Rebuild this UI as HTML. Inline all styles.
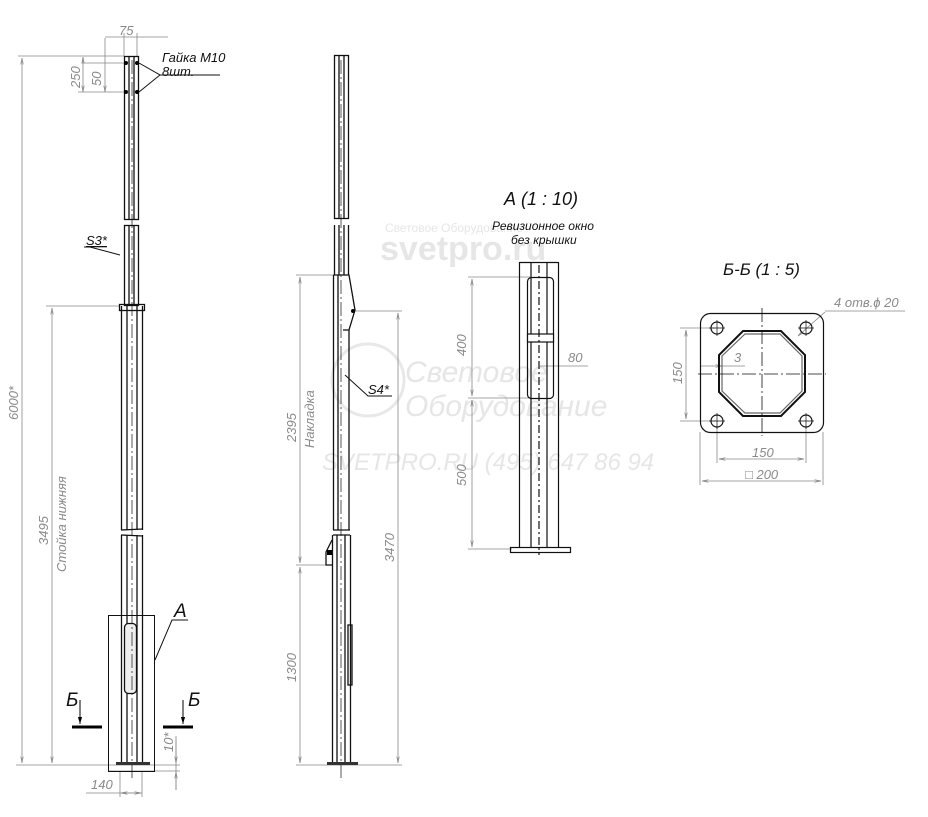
<!DOCTYPE html>
<html><head><meta charset="utf-8"><style>
html,body{margin:0;padding:0;background:#fff;}
svg{display:block;}
.t{font-family:"Liberation Sans",sans-serif;font-style:italic;}
.d{fill:#8a8a8a;font-size:13px;}
.k{fill:#111;}
.w{font-family:"Liberation Sans",sans-serif;fill:#e6e6e6;}
</style></head><body>
<svg width="928" height="817" viewBox="0 0 928 817" xmlns="http://www.w3.org/2000/svg">
<defs>
<marker id="a" viewBox="0 0 10 10" refX="10" refY="5" markerWidth="8" markerHeight="8" orient="auto-start-reverse"><path d="M0,3 L10,5 L0,7" fill="none" stroke="#888" stroke-width="1"/></marker>
<marker id="b" viewBox="0 0 10 10" refX="10" refY="5" markerWidth="7" markerHeight="7" orient="auto"><path d="M0,2 L10,5 L0,8 z" fill="#000"/></marker>
</defs>
<!-- watermark -->
<text class="w" x="385" y="232" font-size="12">Световое Оборудование</text>
<text class="w" x="380" y="260" font-size="34" font-weight="bold">svetpro.ru</text>
<circle cx="368" cy="380" r="36" fill="none" stroke="#e8e8e8" stroke-width="3"/>
<text class="w" x="405" y="382" font-size="30" font-style="italic">Световое</text>
<text class="w" x="405" y="416" font-size="30" font-style="italic">Оборудование</text>
<text class="w" x="322" y="470" font-size="24" font-style="italic">SVETPRO.RU   (495) 647 86 94</text>
<g stroke="#888" stroke-width="0.8" fill="none">
<line x1="18" y1="56" x2="124" y2="56"/>
<line x1="22" y1="58" x2="22" y2="763" marker-start="url(#a)" marker-end="url(#a)"/>
<line x1="16" y1="765" x2="180" y2="765"/>
<line x1="82" y1="63" x2="126" y2="63"/>
<line x1="78" y1="92" x2="126" y2="92"/>
<line x1="83" y1="57" x2="83" y2="92" marker-start="url(#a)" marker-end="url(#a)"/>
<line x1="105" y1="63" x2="105" y2="92" marker-end="url(#a)"/>
<line x1="105" y1="38" x2="105" y2="63"/>
<line x1="124" y1="33" x2="124" y2="56"/><line x1="137" y1="33" x2="137" y2="56"/>
<line x1="105" y1="37" x2="168" y2="37"/>
<line x1="46" y1="306" x2="120" y2="306"/>
<line x1="52" y1="308" x2="52" y2="763" marker-start="url(#a)" marker-end="url(#a)"/>
<line x1="176" y1="736" x2="176" y2="790"/>
<line x1="176" y1="740" x2="176" y2="763" marker-end="url(#a)"/>
<line x1="176" y1="790" x2="176" y2="772" marker-end="url(#a)"/>
<line x1="108" y1="771" x2="180" y2="771"/>
<line x1="120" y1="772" x2="120" y2="797"/><line x1="142" y1="772" x2="142" y2="797"/>
<line x1="86" y1="793" x2="142" y2="793"/>
<line x1="121" y1="793" x2="141" y2="793" marker-start="url(#a)" marker-end="url(#a)"/>
<line x1="296" y1="275" x2="336" y2="275"/>
<line x1="300" y1="277" x2="300" y2="563" marker-start="url(#a)" marker-end="url(#a)"/>
<line x1="296" y1="565" x2="330" y2="565"/>
<line x1="300" y1="567" x2="300" y2="763" marker-start="url(#a)" marker-end="url(#a)"/>
<line x1="296" y1="765" x2="402" y2="765"/>
<line x1="354" y1="311" x2="402" y2="311"/>
<line x1="398" y1="313" x2="398" y2="763" marker-start="url(#a)" marker-end="url(#a)"/>
<line x1="468" y1="277" x2="530" y2="277"/>
<line x1="468" y1="398" x2="530" y2="398"/>
<line x1="472" y1="279" x2="472" y2="396" marker-start="url(#a)" marker-end="url(#a)"/>
<line x1="472" y1="400" x2="472" y2="547" marker-start="url(#a)" marker-end="url(#a)"/>
<line x1="468" y1="549" x2="512" y2="549"/>
<line x1="540" y1="366" x2="588" y2="366"/>
<line x1="680" y1="328" x2="716" y2="328"/><line x1="680" y1="421" x2="716" y2="421"/>
<line x1="686" y1="330" x2="686" y2="419" marker-start="url(#a)" marker-end="url(#a)"/>
<line x1="717" y1="425" x2="717" y2="463"/><line x1="806" y1="425" x2="806" y2="463"/>
<line x1="719" y1="459" x2="804" y2="459" marker-start="url(#a)" marker-end="url(#a)"/>
<line x1="700" y1="432" x2="700" y2="485"/><line x1="823" y1="432" x2="823" y2="485"/>
<line x1="702" y1="481" x2="821" y2="481" marker-start="url(#a)" marker-end="url(#a)"/>
<line x1="700" y1="366" x2="722" y2="366" marker-end="url(#a)"/>
<line x1="722" y1="366" x2="745" y2="366"/>
<line x1="798" y1="336" x2="825" y2="312" marker-start="url(#a)"/>
<line x1="825" y1="311" x2="905" y2="311"/>
</g>
<!-- Pole 1 -->
<g stroke="#111" stroke-width="1.3" fill="none">
<rect x="124.5" y="56.5" width="14" height="163"/>
<line x1="129" y1="57" x2="129" y2="220"/><line x1="134" y1="57" x2="134" y2="220"/>
<rect x="124.5" y="225.5" width="14" height="80"/>
<line x1="129" y1="226" x2="129" y2="306"/><line x1="134" y1="226" x2="134" y2="306"/>
<path d="M121.5,306 L121.5,530 M142.5,306 L142.5,530 M121.5,535 L121.5,765 M142.5,535 L142.5,765"/>
<line x1="127" y1="306" x2="127" y2="530"/><line x1="137" y1="306" x2="137" y2="530"/>
<line x1="127" y1="535" x2="127" y2="765"/><line x1="137" y1="535" x2="137" y2="765"/>
<line x1="121" y1="530" x2="143" y2="529"/><line x1="121" y1="535" x2="143" y2="536"/>
<rect x="119.5" y="304.5" width="25" height="6"/>
<rect x="108.5" y="615.5" width="46" height="156" stroke-width="1"/>
<rect x="124.5" y="623.5" width="12" height="70" rx="4" fill="#eee"/>
<line x1="132" y1="60" x2="132" y2="780" stroke-dasharray="14,3,2,3" stroke-width="0.7"/>
<path d="M139,63 L160,75 L139,92 M160,75 L220,75" stroke-width="1"/>
<path d="M120,255 L90,247 L84,247" stroke-width="1"/>
<path d="M155,660 L172,620 L188,620" stroke-width="1"/>
</g>
<rect x="116" y="762" width="34" height="3" fill="#333"/>
<g fill="#000"><circle cx="126" cy="63" r="2"/><circle cx="137" cy="63" r="2"/><circle cx="126" cy="92" r="2"/><circle cx="137" cy="92" r="2"/></g>
<g stroke="#000" stroke-width="3"><line x1="72" y1="727" x2="102" y2="727"/><line x1="163" y1="727" x2="193" y2="727"/></g>
<g stroke="#000" stroke-width="1"><line x1="80" y1="700" x2="80" y2="724" marker-end="url(#b)"/><line x1="183" y1="700" x2="183" y2="724" marker-end="url(#b)"/></g>
<!-- Pole 2 -->
<g stroke="#111" stroke-width="1.3" fill="none">
<rect x="334.5" y="55.5" width="14" height="163"/>
<line x1="339" y1="56" x2="339" y2="219"/><line x1="344" y1="56" x2="344" y2="219"/>
<path d="M334.5,225 L334.5,275 M348.5,225 L348.5,275"/>
<line x1="339" y1="225" x2="339" y2="275"/><line x1="344" y1="225" x2="344" y2="275"/>
<path d="M333.5,275 L349,275 L355,310 L349,330 L349,530 M333.5,275 L333.5,530 M338,275 L338,530 M343,330 L349,330"/>
<line x1="333" y1="530" x2="350" y2="530"/>
<path d="M332.5,535 L332.5,765 M350.5,535 L350.5,765 M337,535 L337,765 M345,535 L345,765 M333,535 L350,535"/>
<path d="M332,540 L326,552 L326,565 L332,565"/>
<rect x="348" y="625" width="4" height="60"/>
<line x1="341" y1="60" x2="341" y2="780" stroke-dasharray="14,3,2,3" stroke-width="0.7"/>
<path d="M345,375 L368,396 L392,396" stroke-width="1"/>
</g>
<rect x="327" y="762" width="31" height="3" fill="#333"/>
<circle cx="353" cy="311" r="2" fill="#000"/><rect x="327" y="550" width="5" height="5" fill="#000"/>
<!-- Detail A -->
<g stroke="#111" stroke-width="1.2" fill="none">
<path d="M519.5,262.5 L558.5,262.5 M519.5,262 L519.5,548 M558.5,262 L558.5,548"/>
<line x1="531" y1="262" x2="531" y2="548"/><line x1="547" y1="262" x2="547" y2="548"/>
<rect x="527.5" y="277.5" width="26" height="121" rx="4"/>
<rect x="527.5" y="334" width="26" height="8" fill="#fff"/>
<rect x="510.5" y="547.5" width="60" height="5"/>
<line x1="539" y1="265" x2="539" y2="555" stroke-dasharray="8,3,2,3" stroke-width="1.2"/>
</g>
<!-- Б-Б -->
<g stroke="#111" stroke-width="1.2" fill="none">
<rect x="700.5" y="313.5" width="123" height="119" rx="10"/>
<path d="M743,331 L781,331 L805,355 L805,392 L781,416 L743,416 L719,392 L719,355 Z" stroke-width="2"/>
<path d="M745,334 L780,334 L802,356 L802,391 L780,413 L745,413 L722,391 L722,356 Z" stroke="#666"/>
<circle cx="717" cy="328" r="6"/><circle cx="806" cy="328" r="6"/><circle cx="717" cy="421" r="6"/><circle cx="806" cy="421" r="6"/>
<path d="M709,328h16M717,320v16M798,328h16M806,320v16M709,421h16M717,413v16M798,421h16M806,413v16" stroke-width="0.7"/>
<line x1="698" y1="374" x2="826" y2="374" stroke-dasharray="14,3,2,3" stroke-width="0.8"/>
<line x1="762" y1="308" x2="762" y2="436" stroke-dasharray="14,3,2,3" stroke-width="0.8"/>
</g>
<text class="t d" x="119" y="35">75</text>
<text class="t k" x="162" y="62" font-size="13">Гайка М10</text>
<text class="t k" x="162" y="76" font-size="13">8шт.</text>
<text class="t d" transform="translate(80,88) rotate(-90)">250</text>
<text class="t d" transform="translate(101,86) rotate(-90)">50</text>
<text class="t d" transform="translate(18,420) rotate(-90)">6000*</text>
<text class="t d" transform="translate(48,545) rotate(-90)">3495</text>
<text class="t d" transform="translate(66,572) rotate(-90)">Стойка нижняя</text>
<text class="t k" x="86" y="245" font-size="13" text-decoration="underline">S3*</text>
<text class="t k" x="174" y="617" font-size="19">А</text>
<text class="t k" x="66" y="706" font-size="19">Б</text>
<text class="t k" x="188" y="706" font-size="19">Б</text>
<text class="t d" transform="translate(173,752) rotate(-90)">10*</text>
<text class="t d" x="91" y="789">140</text>
<text class="t d" transform="translate(296,442) rotate(-90)">2395</text>
<text class="t d" transform="translate(314,448) rotate(-90)">Накладка</text>
<text class="t d" transform="translate(296,682) rotate(-90)">1300</text>
<text class="t d" transform="translate(394,562) rotate(-90)">3470</text>
<text class="t k" x="368" y="394" font-size="13">S4*</text>
<text class="t k" x="504" y="205" font-size="18">А (1 : 10)</text>
<text class="t k" x="492" y="230" font-size="12">Ревизионное окно</text>
<text class="t k" x="511" y="244" font-size="12">без крышки</text>
<text class="t d" transform="translate(466,356) rotate(-90)">400</text>
<text class="t d" transform="translate(466,486) rotate(-90)">500</text>
<text class="t d" x="568" y="362">80</text>
<text class="t k" x="723" y="275" font-size="17">Б-Б (1 : 5)</text>
<text class="t d" x="834" y="307">4 отв.ϕ 20</text>
<text class="t d" x="734" y="362">3</text>
<text class="t d" transform="translate(682,384) rotate(-90)">150</text>
<text class="t d" x="752" y="457">150</text>
<text class="t d" x="745" y="479">□ 200</text>
</svg>
</body></html>
